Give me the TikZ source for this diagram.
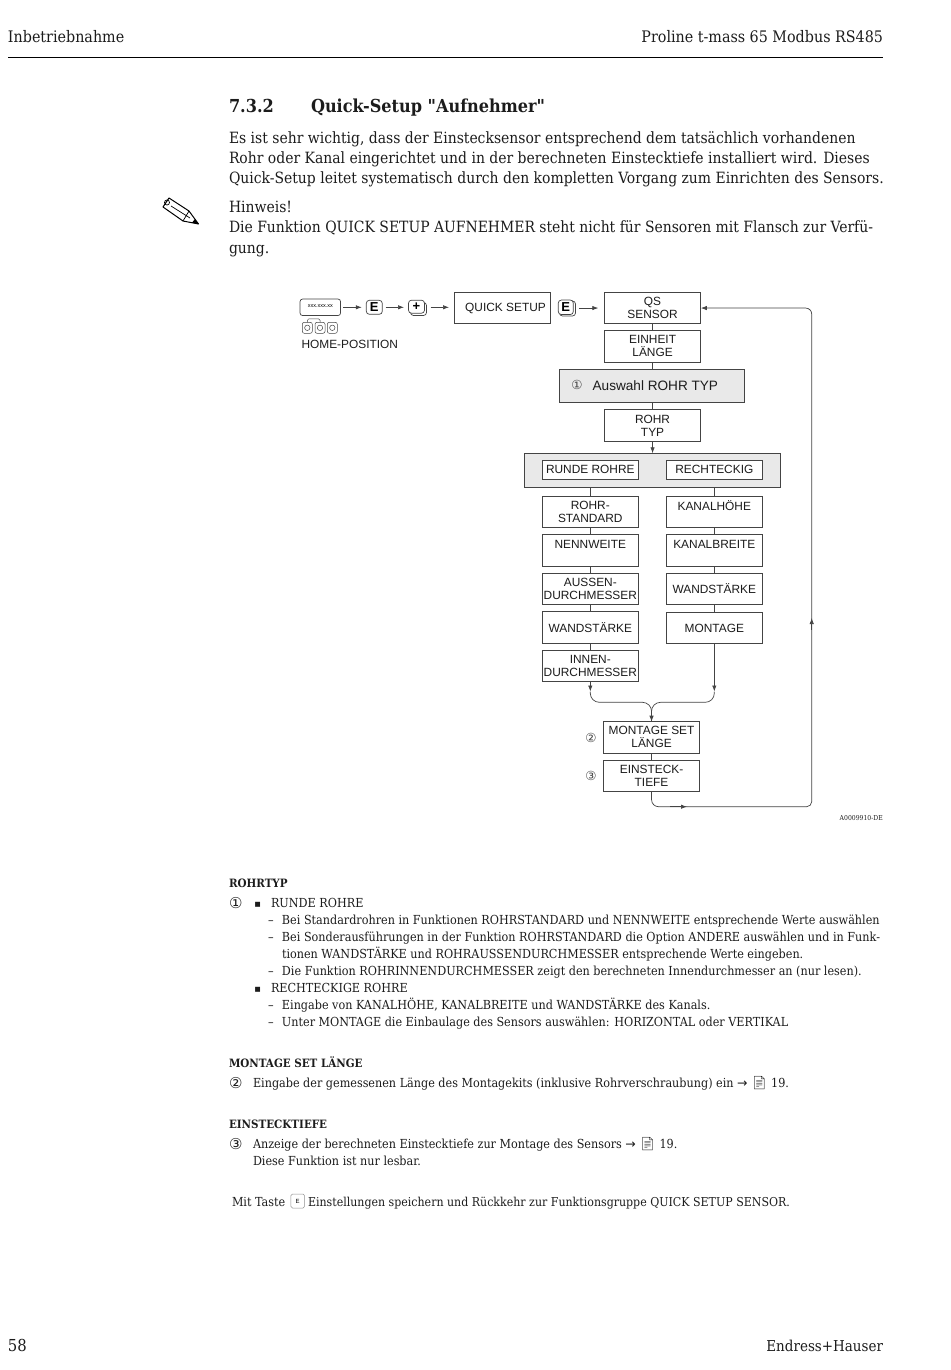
\documentclass[tikz,border=0pt]{standalone}
\usepackage{fontspec}
\setmainfont{DejaVu Serif Condensed}
\newfontfamily\titlefont{DejaVu Serif Condensed}
\newfontfamily\diagfont{Liberation Sans}
\newfontfamily\symfont{DejaVu Sans}
\newfontfamily\iconfont{Noto Emoji}
\usetikzlibrary{positioning, arrows.meta}

\definecolor{linegrey}{HTML}{444444}
\definecolor{bandgrey}{HTML}{E9E9E9}
\definecolor{inktext}{HTML}{1C1C1C}

\tikzset{
    >={Latex[length=6pt, width=4.4pt]},
    flowbox/.style={draw=linegrey, line width=0.7pt, fill=white, minimum width=96.5pt, minimum height=31.5pt, inner sep=0pt, outer sep=0pt, align=center, text=inktext, font=\diagfont\fontsize{11.9}{13}\selectfont},
    shortbox/.style={flowbox, minimum height=19.5pt},
    greybox/.style={flowbox, fill=bandgrey},
    flowline/.style={draw=linegrey, line width=0.7pt},
    keybox/.style={draw=linegrey, line width=0.7pt, fill=white, rounded corners=3pt, minimum width=16pt, minimum height=14pt, inner sep=0pt, outer sep=0pt, font=\diagfont\bfseries\fontsize{13}{13}\selectfont},
    btnbox/.style={draw=linegrey, line width=0.5pt, rounded corners=2pt, minimum width=10pt, minimum height=11pt, inner sep=0pt, outer sep=0pt},
    numlabel/.style={inner sep=0pt, text=linegrey, font=\symfont\fontsize{12.5}{12.5}\selectfont},
    textline/.style={anchor=base west, inner sep=0pt, outer sep=0pt, text=inktext, font=\fontsize{15.5}{16}\selectfont},
    smallline/.style={anchor=base west, inner sep=0pt, outer sep=0pt, text=inktext, font=\fontsize{12.46}{13}\selectfont},
    smallhead/.style={smallline, font=\bfseries\fontsize{11.5}{12}\selectfont},
    headline/.style={textline, font=\fontsize{15.9}{16}\selectfont},
    titleline/.style={textline, font=\titlefont\bfseries\fontsize{17.9}{18}\selectfont},
}

\newcommand{\circled}[1]{{\symfont\fontsize{15}{15}\selectfont #1}}
\newcommand{\pageicon}{{\iconfont\fontsize{13}{13}\selectfont\symbol{"1F4C4}}}
\newcommand{\dashmark}{\makebox[14pt][l]{–}}
\newcommand{\squaremark}{{\symfont\fontsize{6.5}{6.5}\selectfont ■}}

\begin{document}
\begin{tikzpicture}[x=1pt, y=-1pt]
    \useasboundingbox (0,0) rectangle (950,1370);

    % page head
    \node[headline] (headleft) at (8,43) {Inbetriebnahme};
    \node[headline, anchor=base east] (headright) at (883,43) {Proline t-mass 65 Modbus RS485};
    \draw[line width=0.9pt] (8,57) -- (883,57);

    \node[titleline] (secnum) at (229,113) {7.3.2};
    \node[titleline] (sectitle) at (311,113) {Quick-Setup "Aufnehmer"};

    \node[textline] (intro1) at (229,143) {Es ist sehr wichtig, dass der Einstecksensor entsprechend dem tatsächlich vorhandenen};
    \node[textline] (intro2) at (229,163) {Rohr oder Kanal eingerichtet und in der berechneten Einstecktiefe installiert wird. Dieses};
    \node[textline] (intro3) at (229,183.5) {Quick-Setup leitet systematisch durch den kompletten Vorgang zum Einrichten des Sensors.};

    % pencil
    \draw[line width=1pt, line join=round] (169,198) -- (163,207) -- (183,221) -- (198.5,224) -- (189,211) -- cycle;
    \draw[line width=0.7pt] (171,206) -- (190,218) (167,202.5) circle (2.5) (183,221) -- (189,211);
    \fill (198.5,224) -- (192,222.7) -- (195,219) -- cycle;

    \node[textline] (hint1) at (229,212) {Hinweis!};
    \node[textline] (hint2) at (229,232) {Die Funktion QUICK SETUP AUFNEHMER steht nicht für Sensoren mit Flansch zur Verfü-};
    \node[textline] (hint3) at (229,253) {gung.};

    % top row
    \node[draw=linegrey, line width=0.7pt, rounded corners=2.5pt, minimum width=40.5pt, minimum height=16.5pt, inner sep=0pt, outer sep=0pt, font=\diagfont\fontsize{5.5}{5.5}\selectfont] (display) at (320.3,307.3) {\raisebox{3.5pt}{xxx.xxx.xx}};
    \foreach \n/\x in {1/307.3, 2/320, 3/332.3} {
        \node[btnbox] (btn\n) at (\x,327.8) {};
        \draw[linegrey, line width=0.5pt] (btn\n.center) circle (2.7pt);
    }
    \draw[linegrey, line width=0.5pt, rounded corners=1.5pt] (btn1.north) -- ++(0,-3.5) -| (btn2.north);
    \node[anchor=base west, inner sep=0pt, text=inktext, font=\diagfont\fontsize{11.9}{13}\selectfont] (homepos) at (301.3,348.5) {HOME-POSITION};

    \node[keybox] (keye) at (374.3,307.3) {E};
    \node[keybox, minimum width=16pt, minimum height=13pt] (plusback) at (418.5,309) {};
    \node[keybox, minimum width=16pt, minimum height=13pt] (keyplus) at (416.5,306.7) {+};
    \node[flowbox, anchor=north west] (quick) at (454.3,292.3) {\hspace*{6pt}QUICK SETUP};
    \node[keybox, minimum width=16pt, minimum height=15pt] (keyeback) at (567.5,308.5) {};
    \node[keybox, minimum width=15pt, minimum height=14.5pt] (keyetwo) at (565.8,307.3) {E};

    % left and middle stack
    \node[flowbox, anchor=north west] (qssensor) at (604.3,292.3) {QS\\SENSOR};
    \node[flowbox, below=7pt of qssensor] (einheit) {\raisebox{1.5pt}{EINHEIT}\\\raisebox{1.5pt}{LÄNGE}};
    \node[greybox, below=7pt of einheit, xshift=-0.7pt, minimum width=185pt, minimum height=33.5pt, font=\diagfont\fontsize{13.6}{15}\selectfont] (auswahl) {\hspace*{7pt}Auswahl ROHR TYP};
    \node[numlabel] (numone) at (577,385.3) {①};
    \node[flowbox, below=7pt of einheit |- auswahl.south] (rohrtyp) {ROHR\\TYP};
    \node[greybox, minimum width=256pt, minimum height=34pt, below=12pt of rohrtyp] (band) {};
    \node[shortbox] (runde) at (590.3,470) {\raisebox{1pt}{RUNDE ROHRE}};
    \node[shortbox] (recht) at (714.3,470) {\raisebox{1pt}{RECHTECKIG}};

    \node[flowbox, below=16.5pt of runde] (rstandard) {ROHR-\\STANDARD};
    \node[flowbox, below=7pt of rstandard] (nennweite) {NENNWEITE\\~};
    \node[flowbox, below=7pt of nennweite] (aussen) {AUSSEN-\\DURCHMESSER};
    \node[flowbox, below=7pt of aussen] (wandl) {WANDSTÄRKE};
    \node[flowbox, below=7pt of wandl] (innen) {INNEN-\\DURCHMESSER};

    \node[flowbox, below=16.5pt of recht] (kanalh) {KANALHÖHE\\~};
    \node[flowbox, below=7pt of kanalh] (kanalb) {KANALBREITE\\~};
    \node[flowbox, below=7pt of kanalb] (wandr) {WANDSTÄRKE};
    \node[flowbox, below=7.5pt of wandr] (montage) {MONTAGE};

    \node[flowbox, anchor=north west] (mset) at (603.3,721.7) {\raisebox{1pt}{MONTAGE SET}\\\raisebox{1pt}{LÄNGE}};
    \node[flowbox, below=7pt of mset] (einsteck) {EINSTECK-\\TIEFE};
    \node[numlabel] (numtwo) at (591,737.5) {②};
    \node[numlabel] (numthree) at (591,776) {③};

    % connectors
    \draw[flowline, ->, shorten <=2.7pt, shorten >=4.5pt] (display.east) -- (keye.west);
    \draw[flowline, ->, shorten <=3.4pt, shorten >=4.5pt] (keye.east) -- (keyplus.west |- keye.east);
    \draw[flowline, ->, shorten <=6pt, shorten >=5.3pt] (keyplus.east |- keye.east) -- (quick.west |- keye.east);
    \draw[flowline, ->, shorten <=6pt, shorten >=6pt] (keyetwo.east |- qssensor.west) -- (qssensor.west);
    \draw[flowline] (qssensor) -- (einheit);
    \draw[flowline] (einheit) -- (auswahl.north -| einheit);
    \draw[flowline] (auswahl.south -| rohrtyp) -- (rohrtyp);
    \draw[flowline, ->] (rohrtyp) -- (band);
    \draw[flowline] (runde.south |- band.south) -- (rstandard);
    \draw[flowline] (recht.south |- band.south) -- (kanalh);
    \draw[flowline] (rstandard) -- (nennweite);
    \draw[flowline] (nennweite) -- (aussen);
    \draw[flowline] (aussen) -- (wandl);
    \draw[flowline] (wandl) -- (innen);
    \draw[flowline] (kanalh) -- (kanalb);
    \draw[flowline] (kanalb) -- (wandr);
    \draw[flowline] (wandr) -- (montage);
    \draw[flowline] (mset) -- (einsteck);

    \coordinate (mergel) at (590.3,691.5);
    \coordinate (merger) at (714.3,691.5);
    \coordinate (mergec) at (651.5,702.3);
    \draw[flowline, ->] (innen) -- (mergel);
    \draw[flowline, ->] (montage) -- (merger);
    \draw[flowline, rounded corners=9pt] (mergel) |- (mergec) -- (mset.north);
    \draw[flowline, rounded corners=9pt] (merger) |- (mergec) -- (mset.north);
    \draw[flowline, ->] (651.5,712) -- (mset.north);

    \coordinate (retbot) at (687,806.7);
    \coordinate (retstart) at (670,806.7);
    \coordinate (retside) at (811.7,618);
    \coordinate (retlow) at (811.7,630);
    \draw[flowline, rounded corners=5pt] (retbot) -| (retside);
    \draw[flowline, rounded corners=7pt] (einsteck) |- (retbot);
    \draw[flowline, ->] (retstart) -- (retbot);
    \draw[flowline, ->, rounded corners=6pt] (retside) |- (qssensor.east);
    \draw[flowline, ->] (retlow) -- (retside);

    \node[anchor=base east, inner sep=0pt, text=inktext, font=\fontsize{6.8}{7}\selectfont] (figid) at (883,820.5) {A0009910-DE};

    % legend
    \node[smallhead] (headrohr) at (229,887) {ROHRTYP};
    \node[smallline] (numa) at (229,908) {\circled{①}};
    \node[smallline] (bula) at (254.5,906) {\squaremark};
    \node[smallline] (runa) at (271,907.5) {RUNDE ROHRE};
    \node[smallline] (d1) at (268,924.5) {\dashmark Bei Standardrohren in Funktionen ROHRSTANDARD und NENNWEITE entsprechende Werte auswählen};
    \node[smallline] (d2) at (268,941.5) {\dashmark Bei Sonderausführungen in der Funktion ROHRSTANDARD die Option ANDERE auswählen und in Funk-};
    \node[smallline] (d3) at (282,958.5) {tionen WANDSTÄRKE und ROHRAUSSENDURCHMESSER entsprechende Werte eingeben.};
    \node[smallline] (d4) at (268,975.5) {\dashmark Die Funktion ROHRINNENDURCHMESSER zeigt den berechneten Innendurchmesser an (nur lesen).};
    \node[smallline] (bulb) at (254.5,991) {\squaremark};
    \node[smallline] (rechb) at (271,992.5) {RECHTECKIGE ROHRE};
    \node[smallline] (d5) at (268,1009.5) {\dashmark Eingabe von KANALHÖHE, KANALBREITE und WANDSTÄRKE des Kanals.};
    \node[smallline] (d6) at (268,1026.5) {\dashmark Unter MONTAGE die Einbaulage des Sensors auswählen: HORIZONTAL oder VERTIKAL};

    \node[smallhead] (headmset) at (229,1067) {MONTAGE SET LÄNGE};
    \node[smallline] (numb) at (229,1088) {\circled{②}};
    \node[smallline] (lenb) at (253,1087.5) {Eingabe der gemessenen Länge des Montagekits (inklusive Rohrverschraubung) ein {\symfont→} \pageicon{} 19.};

    \node[smallhead] (headeins) at (229,1128) {EINSTECKTIEFE};
    \node[smallline] (numc) at (229,1149) {\circled{③}};
    \node[smallline] (lenc) at (253,1148.5) {Anzeige der berechneten Einstecktiefe zur Montage des Sensors {\symfont→} \pageicon{} 19.};
    \node[smallline] (lend) at (253,1165.5) {Diese Funktion ist nur lesbar.};

    \node[smallline] (taste) at (232,1206.5) {Mit Taste};
    \node[draw=linegrey!60, rounded corners=1.5pt, line width=0.5pt, minimum width=13.5pt, minimum height=14pt, inner sep=0pt, font=\diagfont\fontsize{6}{6}\selectfont] (tastekey) at (297.7,1201) {E};
    \node[smallline, font=\fontsize{12.25}{13}\selectfont] (tasterest) at (308,1206.5) {Einstellungen speichern und Rückkehr zur Funktionsgruppe QUICK SETUP SENSOR.};

    % page foot
    \node[textline, font=\fontsize{16.5}{17}\selectfont] (pageno) at (8,1351) {58};
    \node[textline, anchor=base east, font=\fontsize{15}{15}\selectfont] (brand) at (883,1351) {Endress+Hauser};
\end{tikzpicture}
\end{document}
